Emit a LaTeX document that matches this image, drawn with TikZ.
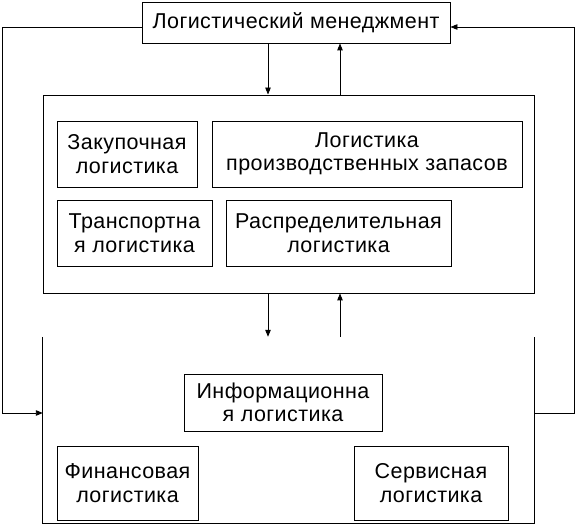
\documentclass[tikz,border=0pt]{standalone}
\usepackage{fontspec}
\setmainfont{Liberation Sans}[LetterSpace=2]
\usetikzlibrary{arrows.meta}
\newcommand{\txt}{\fontsize{21.5}{23.5}\selectfont}
\tikzset{pfeil/.style={line width=0.9pt,-{Triangle[length=7pt,width=5.5pt]}},
  kasten/.style={draw,line width=0.9pt,inner sep=0,align=center,font=\txt},
  rahmen/.style={line width=0.9pt}}

\begin{document}
\begin{tikzpicture}[x=1pt,y=1pt]
\useasboundingbox (0,0) rectangle (578,525);
\node[kasten,minimum width=308,minimum height=41] (mgmt) at (296,502.5) {Логистический менеджмент};
\node[kasten,minimum width=491,minimum height=198] (kern) at (288.5,331) {};
\node[inner sep=0,minimum width=491,minimum height=186] (unterbau) at (288.5,95) {};
\draw[rahmen] (unterbau.north west) -- (unterbau.south west) -- (unterbau.south east) -- (unterbau.north east);
\node[kasten,minimum width=140,minimum height=66] (zakup) at (127,371) {Закупочная\\логистика};
\node[kasten,minimum width=310,minimum height=66] (zapas) at (367,371) {Логистика\\производственных запасов};
\node[kasten,minimum width=155,minimum height=66] (transp) at (134.5,292) {Транспортна\\я логистика};
\node[kasten,minimum width=225,minimum height=66] (raspr) at (338.5,292) {Распределительная\\логистика};
\node[kasten,minimum width=198,minimum height=57] (inform) at (283,122.5) {Информационна\\я логистика};
\node[kasten,minimum width=141,minimum height=74] (finans) at (127.5,42) {Финансовая\\логистика};
\node[kasten,minimum width=154,minimum height=74] (servis) at (431,42) {Сервисная\\логистика};
\coordinate (lx) at (268,0);
\coordinate (rx) at (340,0);
\coordinate (lk) at (2,0);
\coordinate (rk) at (574,0);
\draw[pfeil] (mgmt.south -| lx) -- (kern.north -| lx);
\draw[pfeil] (kern.north -| rx) -- (mgmt.south -| rx);
\draw[pfeil] (kern.south -| lx) -- (unterbau.north -| lx);
\draw[pfeil] (unterbau.north -| rx) -- (kern.south -| rx);
\draw[pfeil] ([yshift=-4.5]mgmt.west) -| ([yshift=17]unterbau.west -| lk) -- ([yshift=17]unterbau.west);
\draw[pfeil] ([yshift=17]unterbau.east) -| ([yshift=-4.5]mgmt.east -| rk) -- ([yshift=-4.5]mgmt.east);
\end{tikzpicture}
\end{document}
